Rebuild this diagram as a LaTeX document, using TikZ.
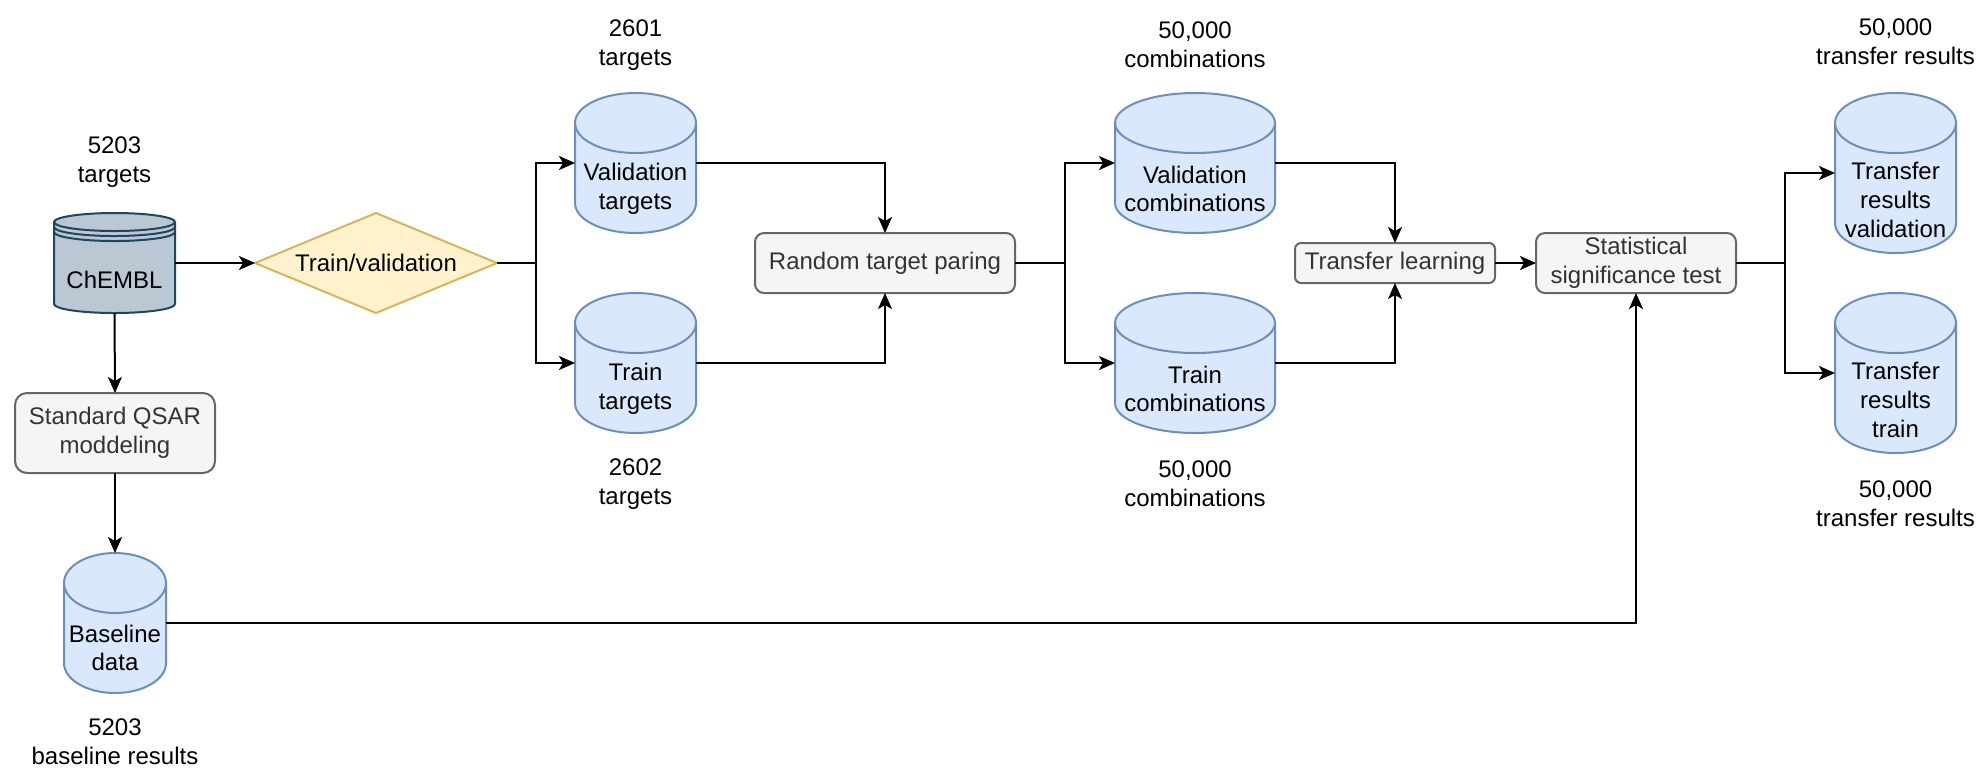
\documentclass[tikz,border=0pt]{standalone}
\usepackage{fontspec}
\setmainfont{Liberation Sans}
\usetikzlibrary{arrows.meta,shapes.geometric,calc}

\definecolor{storefill}{HTML}{DAE8FC}
\definecolor{storeline}{HTML}{6C8EBF}
\definecolor{chemfill}{HTML}{BAC8D3}
\definecolor{chemline}{HTML}{23445D}
\definecolor{splitfill}{HTML}{FFF2CC}
\definecolor{splitline}{HTML}{D6B656}
\definecolor{stepfill}{HTML}{F5F5F5}
\definecolor{stepline}{HTML}{666666}
\definecolor{steptext}{HTML}{333333}

\tikzset{
  every node/.style={font=\fontsize{12}{14.4}\selectfont, inner sep=0pt, outer sep=0pt},
  box/.style={shape=rectangle, draw=none, inner sep=0pt},
  stepbox/.style={rectangle, draw=stepline, fill=stepfill, text=steptext,
    line width=1pt, align=center, inner sep=0pt},
  split/.style={diamond, draw=splitline, fill=splitfill, line width=1pt,
    aspect=2.42, minimum width=121pt, minimum height=50pt, inner sep=0pt},
  store/.style={draw=storeline, fill=storefill, line width=1pt},
  chem/.style={draw=chemline, fill=chemfill, line width=1pt},
  cyltext/.style={align=center, text=black},
  count/.style={align=center, text=black},
  flow/.style={draw=black, line width=1pt,
    -{Stealth[length=8pt,width=7pt,inset=2pt]}},
}

% cylinder store: name, centre x, centre y, width (px), height (px), lid half-height (px)
\newcommand{\storecyl}[6]{%
  \node[box, minimum width=#4*0.5pt, minimum height=#5*0.5pt] (#1) at (#2,#3) {};
  \path[store] ($(#1.south west)+(0,-#6)$) -- ($(#1.north west)+(0,#6)$)
    arc[start angle=180, end angle=0, x radius=#4*0.25pt, y radius=#6*0.5pt]
    -- ($(#1.south east)+(0,-#6)$)
    arc[start angle=0, end angle=-180, x radius=#4*0.25pt, y radius=#6*0.5pt]
    -- cycle;
  \draw[store, fill=none] ($(#1.north west)+(0,#6)$)
    arc[start angle=180, end angle=360, x radius=#4*0.25pt, y radius=#6*0.5pt];
}

\begin{document}
\begin{tikzpicture}[x=0.5pt, y=-0.5pt]
\useasboundingbox (0,0) rectangle (1979,768);

% ---- source database (ChEMBL) ----
\node[box, minimum width=60.5pt, minimum height=50pt] (chembl) at (114.5,263) {};
\path[chem] ($(chembl.south west)+(0,-9)$) -- ($(chembl.north west)+(0,9)$)
  arc[start angle=180, end angle=0, x radius=30.25pt, y radius=4.5pt]
  -- ($(chembl.south east)+(0,-9)$)
  arc[start angle=0, end angle=-180, x radius=30.25pt, y radius=4.5pt] -- cycle;
\foreach \o in {9,14,19}
  \draw[chem, fill=none] ($(chembl.north west)+(0,\o)$)
    arc[start angle=180, end angle=360, x radius=30.25pt, y radius=4.5pt];
\node[cyltext] (chembl-text) at (114.5,280) {ChEMBL};
\node[count] (chembl-count) at (114.5,162) {5203\\targets};

% ---- split ----
\node[split] (split) at (376,263) {Train/validation};

% ---- baseline branch ----
\node[stepbox, rounded corners=6pt, minimum width=100pt, minimum height=40pt]
  (qsar) at (115,433) {Standard QSAR\\moddeling};
\storecyl{base}{115}{623}{102}{140}{30}
\node[cyltext] (base-text) at (115,648) {Baseline\\data};
\node[count] (base-count) at (115,742) {5203\\baseline results};

% ---- target sets ----
\storecyl{vtgt}{635.5}{163}{121}{140}{30}
\node[cyltext] (vtgt-text) at (635.5,189) {Validation\\targets};
\node[count] (vtgt-count) at (635.5,45) {2601\\targets};
\storecyl{ttgt}{635.5}{363}{121}{140}{30}
\node[cyltext] (ttgt-text) at (635.5,389) {Train\\targets};
\node[count] (ttgt-count) at (635.5,484) {2602\\targets};

\node[stepbox, rounded corners=4.5pt, minimum width=130pt, minimum height=30pt]
  (pair) at (885,263) {Random target paring};

% ---- combinations ----
\storecyl{vcomb}{1195}{163}{160}{140}{30}
\node[cyltext] (vcomb-text) at (1195,189) {Validation\\combinations};
\node[count] (vcomb-count) at (1195,45) {50,000\\combinations};
\storecyl{tcomb}{1195}{363}{160}{140}{30}
\node[cyltext] (tcomb-text) at (1195,389) {Train\\combinations};
\node[count] (tcomb-count) at (1195,484) {50,000\\combinations};

\node[stepbox, rounded corners=3pt, minimum width=100pt, minimum height=20pt]
  (tl) at (1395,263) {Transfer learning};
\node[stepbox, rounded corners=4.5pt, minimum width=100pt, minimum height=30pt]
  (stat) at (1636,263) {Statistical\\significance test};

% ---- transfer results ----
\storecyl{trv}{1895.5}{173}{121}{160}{30}
\node[cyltext] (trv-text) at (1895.5,200) {Transfer\\results\\validation};
\node[count] (trv-count) at (1895.5,42) {50,000\\transfer results};
\storecyl{trt}{1895.5}{373}{121}{160}{30}
\node[cyltext] (trt-text) at (1895.5,400) {Transfer\\results\\train};
\node[count] (trt-count) at (1895.5,504) {50,000\\transfer results};

% ---- connectors ----
\draw[flow] (chembl.east) -- (split.west);
\draw[flow] (chembl.south) -- (qsar.north);
\draw[flow] (qsar.south) -- (base.north);
\draw[flow] (split.east) -- ++(39,0) |- (vtgt.west);
\draw[flow] (split.east) -- ++(39,0) |- (ttgt.west);
\draw[flow] (vtgt.east) -| (pair.north);
\draw[flow] (ttgt.east) -| (pair.south);
\draw[flow] (pair.east) -- ++(50,0) |- (vcomb.west);
\draw[flow] (pair.east) -- ++(50,0) |- (tcomb.west);
\draw[flow] (vcomb.east) -| (tl.north);
\draw[flow] (tcomb.east) -| (tl.south);
\draw[flow] (tl.east) -- (stat.west);
\draw[flow] (base.east) -| (stat.south);
\draw[flow] (stat.east) -- ++(49,0) |- (trv.west);
\draw[flow] (stat.east) -- ++(49,0) |- (trt.west);
\end{tikzpicture}
\end{document}
